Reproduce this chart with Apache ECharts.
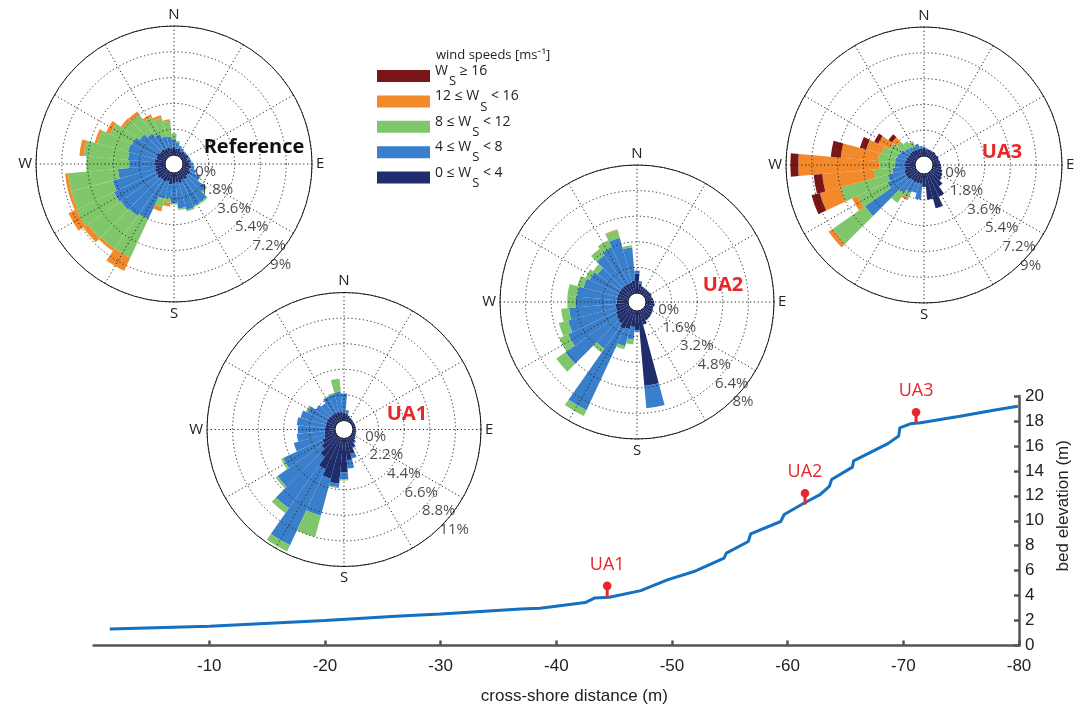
<!DOCTYPE html>
<html>
<head>
<meta charset="utf-8">
<title>Wind roses and cross-shore bed profile</title>
<script src="https://cdn.jsdelivr.net/npm/echarts@6/dist/echarts.min.js"></script>
<style>
  html, body { margin: 0; padding: 0; background: #ffffff; }
  #chart { width: 1084px; height: 708px; }
</style>
</head>
<body>
<div id="chart"></div>
<script>
// ---------- wind rose data: frequency (%) per 10° direction bin, one array per speed class ----------
const directions = [0, 10, 20, 30, 40, 50, 60, 70, 80, 90, 100, 110, 120, 130, 140, 150, 160, 170,
                    180, 190, 200, 210, 220, 230, 240, 250, 260, 270, 280, 290, 300, 310, 320, 330, 340, 350];

const speedClasses = ['0 ≤ W_S < 4', '4 ≤ W_S < 8', '8 ≤ W_S < 12', '12 ≤ W_S < 16', 'W_S ≥ 16'];
const speedColors  = ['#1f2d6c', '#3a7fcc', '#80c76c', '#f28a2c', '#7a1518'];

// Reference station
const ref0to4   = [0.55,0.45,0.5,0.35,0.45,0.4,0.5,0.35,0.5,0.45,0.6,0.5,0.65,0.55,0.7,0.6,0.75,0.65,0.7,0.8,0.65,0.75,0.7,0.8,0.7,0.75,0.65,0.7,0.75,0.65,0.7,0.6,0.65,0.55,0.6,0.5];
const ref4to8   = [0.55,0.45,0.2,0.25,0.05,0.1,0,0.2,0.1,0.25,0.2,0.5,0.75,1.55,1.9,2.0,1.95,1.85,1.4,1.0,1.25,2.85,3.1,3.1,3.3,3.05,2.65,1.8,1.85,2.05,1.9,1.7,1.35,1.15,0.8,0.8];
const ref8to12  = [0.4,0.1,0,0,0,0,0,0,0,0,0,0,0.05,0.1,0.1,0.1,0.1,0.1,0.1,0.3,0.6,3.0,2.8,2.8,2.9,3.0,3.5,3.0,3.1,2.2,1.7,1.4,1.6,1.3,1.3,1.1];
const ref12to16 = [0,0,0,0,0,0,0,0,0,0,0,0,0,0,0,0,0,0,0,0.25,0.3,1.0,0.2,0.4,0.6,0.2,0.2,0,0.3,0.2,0.3,0.2,0.25,0.2,0.2,0.1];
const ref16up   = [0,0,0,0,0,0,0,0,0,0,0,0,0,0,0,0,0,0,0,0,0,0,0,0,0,0,0,0,0,0,0,0,0,0,0,0];
const refTicks      = [0, 1.8, 3.6, 5.4, 7.2, 9];
const refTickLabels = ['0%', '1.8%', '3.6%', '5.4%', '7.2%', '9%'];

// UA1
const ua1_0to4   = [0.7,0.6,0.45,0.35,0.3,0.25,0.25,0.25,0.25,0.25,0.3,0.3,0.35,0.45,0.6,0.9,1.4,1.9,2.9,3.9,3.6,3.0,2.1,1.6,1.3,1.0,0.9,0.85,0.85,0.85,0.85,0.85,0.8,0.8,0.8,0.75];
const ua1_4to8   = [1.6,0.3,0.05,0,0,0,0,0,0,0,0,0,0,0,0.1,0.1,0.4,0.7,0.6,0.3,3.3,7.2,5.4,4.6,3.7,2.7,2.4,2.35,2.45,2.25,1.85,1.35,1.2,1.55,1.6,1.75];
const ua1_8to12  = [0.05,0,0,0,0,0,0,0,0,0,0,0,0,0,0,0,0,0,0.1,0.1,1.9,0.6,0.5,0.2,0.2,0,0,0,0,0,0.15,0,0,0.05,0.1,1.1];
const ua1_12to16 = [0,0,0,0,0,0,0,0,0,0,0,0,0,0,0,0,0,0,0,0,0,0,0,0,0,0,0,0,0,0,0,0,0,0,0,0];
const ua1_16up   = [0,0,0,0,0,0,0,0,0,0,0,0,0,0,0,0,0,0,0,0,0,0,0,0,0,0,0,0,0,0,0,0,0,0,0,0];
const ua1Ticks      = [0, 2.2, 4.4, 6.6, 8.8, 11];
const ua1TickLabels = ['0%', '2.2%', '4.4%', '6.6%', '8.8%', '11%'];

// UA2
const ua2_0to4   = [1.2,0.6,0.45,0.4,0.4,0.4,0.45,0.4,0.45,0.5,0.55,0.5,0.55,0.6,0.65,0.7,0.9,4.7,1.2,1.0,1.2,1.3,1.1,1.0,0.9,0.8,0.8,0.7,0.7,0.7,0.7,0.7,0.7,0.7,0.7,0.8];
const ua2_4to8   = [0.2,0.15,0,0,0,0,0,0,0,0,0,0,0,0,0,0,0,1.4,0.1,0.8,1.1,5.6,1.9,3.9,3.3,3.1,2.9,2.6,2.5,2.2,2.0,1.75,2.3,2.5,2.9,2.05];
const ua2_8to12  = [0,0,0,0,0,0,0,0,0,0,0,0,0,0,0,0,0,0,0,0.3,0.2,0.4,0.3,0.7,0.6,0.6,0.5,0.5,0.6,0.4,0.3,0.35,0.5,0.5,0.5,0.15];
const ua2_12to16 = [0,0,0,0,0,0,0,0,0,0,0,0,0,0,0,0,0,0,0,0,0,0,0,0,0,0,0,0,0,0,0,0,0,0,0.05,0];
const ua2_16up   = [0,0,0,0,0,0,0,0,0,0,0,0,0,0,0,0,0,0,0,0,0,0,0,0,0,0,0,0,0,0,0,0,0,0,0,0];
const ua2Ticks      = [0, 1.6, 3.2, 4.8, 6.4, 8];
const ua2TickLabels = ['0%', '1.6%', '3.2%', '4.8%', '6.4%', '8%'];

// UA3
const ua3_0to4   = [0.55,0.5,0.5,0.45,0.5,0.45,0.5,0.45,0.5,0.55,0.6,0.7,0.8,0.9,1.2,1.8,2.5,1.8,0.9,0.7,0.7,0.7,0.7,0.8,0.8,0.8,0.7,0.7,0.7,0.65,0.6,0.6,0.6,0.55,0.55,0.55];
const ua3_4to8   = [0.1,0.05,0,0,0,0,0,0,0,0,0,0,0,0,0,0,0,0,0,1.1,0.7,0.8,1.1,3.6,1.4,1.2,0.9,0.7,0.7,0.65,0.6,0.4,0.3,0.25,0.35,0.15];
const ua3_8to12  = [0,0,0,0,0,0,0,0,0,0,0,0,0,0,0,0,0,0,0,0,0,0.4,0.8,2.75,2.3,3.4,1.3,1.1,1.2,1.1,0.8,0.7,0.5,0.4,0,0];
const ua3_12to16 = [0,0,0,0,0,0,0,0,0,0,0,0,0,0,0,0,0,0,0,0,0,0.2,0,0.35,0.4,1.5,3.6,5.65,2.6,1.15,0.9,0.4,0,0,0,0];
const ua3_16up   = [0,0,0,0,0,0,0,0,0,0,0,0,0,0,0,0,0,0,0,0,0,0,0,0,0,0.6,0.6,0.55,0.7,0.45,0.3,0.3,0,0,0,0];
const ua3Ticks      = [0, 1.8, 3.6, 5.4, 7.2, 9];
const ua3TickLabels = ['0%', '1.8%', '3.6%', '5.4%', '7.2%', '9%'];

const compassAngles = [0, 90, 180, 270];
const compassNames  = ['N', 'E', 'S', 'W'];

// ---------- cross-shore bed profile ----------
const profileX = [-1.4, -10, -20, -26.5, -30, -36.9, -38.6, -42.5, -43.3, -44.6, -47.3, -49.6, -51.9, -54.5, -54.7,
                  -56.6, -56.8, -59.4, -59.7, -61.4, -62.8, -63.6, -63.8, -65.6, -65.7, -68.7, -69.6, -69.7, -70.6,
                  -71.5, -74.9, -77.8, -79.9];
const profileY = [1.33, 1.54, 2.0, 2.37, 2.53, 2.93, 2.99, 3.44, 3.8, 3.87, 4.4, 5.26, 5.93, 7.0, 7.4,
                  8.34, 8.95, 9.94, 10.5, 11.4, 12.09, 12.75, 13.3, 14.3, 14.8, 16.2, 16.8, 17.45, 17.77,
                  17.85, 18.38, 18.86, 19.18];

const stationNames  = ['UA1', 'UA2', 'UA3'];
const stationX      = [-44.4, -61.5, -71.1];
const stationGround = [3.87, 11.3, 17.85];
const stationTop    = [4.78, 12.2, 18.7];

const xTicks = [-10, -20, -30, -40, -50, -60, -70, -80];

// ---------- layout ----------
const SANS  = "'Open Sans', 'Liberation Sans', sans-serif";
const ARIAL = "'Liberation Sans', Arial, sans-serif";
const RED   = '#e8262b';
const tickLabelAngle = 137;

const roses = [
  { title: 'Reference', classes: [ref0to4, ref4to8, ref8to12, ref12to16, ref16up], ticks: refTicks, tickLabels: refTickLabels },
  { title: 'UA1', classes: [ua1_0to4, ua1_4to8, ua1_8to12, ua1_12to16, ua1_16up], ticks: ua1Ticks, tickLabels: ua1TickLabels },
  { title: 'UA2', classes: [ua2_0to4, ua2_4to8, ua2_8to12, ua2_12to16, ua2_16up], ticks: ua2Ticks, tickLabels: ua2TickLabels },
  { title: 'UA3', classes: [ua3_0to4, ua3_4to8, ua3_8to12, ua3_12to16, ua3_16up], ticks: ua3Ticks, tickLabels: ua3TickLabels }
];
const roseLayout = [
  { center: [174, 164],   radius: [9, 138], titleColor: '#111111', titlePos: [254, 147] },
  { center: [344, 429.5], radius: [9, 137], titleColor: RED,       titlePos: [407, 414] },
  { center: [637, 302],   radius: [9, 137], titleColor: RED,       titlePos: [723, 285] },
  { center: [924, 165],   radius: [9, 138], titleColor: RED,       titlePos: [1002, 152] }
];

const gridLine = { color: '#222222', width: 1, type: [1.2, 2.6] };

const polar = [], angleAxis = [], radiusAxis = [], series = [], graphic = [];

// polar systems carrying the stacked bars
roses.forEach((rose, i) => {
  const lay = roseLayout[i];
  polar.push({ center: lay.center, radius: lay.radius });
  angleAxis.push({
    polarIndex: i, type: 'category', data: directions, startAngle: 95, clockwise: true,
    show: false, axisLine: { show: false }, axisTick: { show: false }, axisLabel: { show: false }, splitLine: { show: false }
  });
  radiusAxis.push({
    polarIndex: i, type: 'value', min: 0, max: rose.ticks[rose.ticks.length - 1],
    show: false, axisLine: { show: false }, axisTick: { show: false }, axisLabel: { show: false }, splitLine: { show: false }
  });
  rose.classes.forEach((vals, c) => {
    series.push({
      type: 'bar', name: speedClasses[c], coordinateSystem: 'polar', polarIndex: i,
      stack: 'rose' + i, data: vals, barCategoryGap: '0%', silent: true, z: 2,
      itemStyle: { color: speedColors[c], borderWidth: 0 }
    });
  });
});

// polar systems carrying the dotted grid, compass letters and percentage labels
roses.forEach((rose, i) => {
  const lay = roseLayout[i];
  const g = roses.length + i;
  polar.push({ center: lay.center, radius: lay.radius });
  angleAxis.push({
    polarIndex: g, type: 'value', min: 0, max: 360, interval: 30, startAngle: 90, clockwise: true, z: 3,
    axisLine: { show: true, lineStyle: { color: '#1a1a1a', width: 1 } },
    axisTick: { show: false },
    axisLabel: {
      margin: 4, fontSize: 15, color: '#222', fontFamily: SANS,
      formatter: v => { const k = compassAngles.indexOf(v); return k < 0 ? '' : compassNames[k]; }
    },
    splitLine: { show: true, lineStyle: gridLine }
  });
  radiusAxis.push({
    polarIndex: g, type: 'value', min: 0, max: rose.ticks[rose.ticks.length - 1], interval: rose.ticks[1], z: 3,
    axisLine: { show: false }, axisTick: { show: false }, axisLabel: { show: false },
    splitLine: { show: true, lineStyle: gridLine }
  });
  series.push({
    type: 'scatter', coordinateSystem: 'polar', polarIndex: g, symbolSize: 0.01, silent: true, z: 4,
    itemStyle: { color: 'rgba(0,0,0,0)' },
    data: rose.ticks.map((v, k) => k === 0
      ? { value: [v, tickLabelAngle], label: { offset: [13, 1] } }
      : { value: [v, tickLabelAngle] }),
    label: {
      show: true, position: 'right', distance: 2, fontSize: 15, color: '#1e1e1e', fontFamily: SANS,
      formatter: p => rose.tickLabels[p.dataIndex]
    }
  });
  graphic.push({
    type: 'text', x: lay.titlePos[0], y: lay.titlePos[1], z: 10,
    style: {
      text: rose.title, fill: lay.titleColor, font: 'bold 20px ' + SANS,
      align: 'center', verticalAlign: 'middle', textAlign: 'center', textVerticalAlign: 'middle'
    }
  });
});

graphic.push({
  type: 'text', x: 436, y: 55, z: 10,
  style: {
    text: 'wind speeds [ms⁻¹]', fill: '#222', font: '13px ' + SANS,
    align: 'left', verticalAlign: 'middle', textAlign: 'left', textVerticalAlign: 'middle'
  }
});

// bed profile line
series.push({
  type: 'line', xAxisIndex: 0, yAxisIndex: 0, showSymbol: false, silent: true, z: 3,
  data: profileX.map((x, k) => [x, profileY[k]]),
  lineStyle: { color: '#1570bf', width: 3 }
});

// instrument pins on the profile
series.push({
  type: 'custom', xAxisIndex: 0, yAxisIndex: 0, silent: true, z: 5,
  data: stationX.map((x, k) => [x, stationGround[k], stationTop[k]]),
  encode: { x: 0, y: [1, 2] },
  renderItem: (params, api) => {
    const base = api.coord([api.value(0), api.value(1)]);
    const top  = api.coord([api.value(0), api.value(2)]);
    return {
      type: 'group',
      children: [
        { type: 'line', shape: { x1: base[0], y1: base[1], x2: top[0], y2: top[1] }, style: { stroke: RED, lineWidth: 3 } },
        { type: 'circle', shape: { cx: top[0], cy: top[1], r: 4.3 }, style: { fill: RED } },
        { type: 'text', x: top[0], y: top[1] - 21,
          style: { text: stationNames[params.dataIndex], fill: RED, font: '18px ' + SANS,
                   align: 'center', verticalAlign: 'middle' } }
      ]
    };
  }
});

const legendOrder = ['W_S ≥ 16', '12 ≤ W_S < 16', '8 ≤ W_S < 12', '4 ≤ W_S < 8', '0 ≤ W_S < 4'];

const axisGray = '#555555';

const option = {
  animation: false,
  backgroundColor: '#ffffff',
  polar, angleAxis, radiusAxis,
  grid: { left: 93.6, right: 65, top: 396, bottom: 62.5, show: false },
  xAxis: {
    type: 'value', min: -80, max: 0, inverse: true, interval: 10,
    name: 'cross-shore distance (m)', nameLocation: 'middle', nameGap: 42,
    nameTextStyle: { fontSize: 17, color: '#222', fontFamily: ARIAL, padding: [0, 0, 0, 36] },
    axisLine: { onZero: false, lineStyle: { color: axisGray, width: 2.5 } },
    axisTick: { inside: true, length: 5, lineStyle: { color: axisGray, width: 2.5 }, customValues: xTicks },
    axisLabel: { customValues: xTicks, fontSize: 17, color: '#222', fontFamily: ARIAL, margin: 12 },
    splitLine: { show: false }
  },
  yAxis: {
    type: 'value', position: 'right', min: 0, max: 20, interval: 2,
    name: 'bed elevation (m)', nameLocation: 'middle', nameRotate: 90, nameGap: 36,
    nameTextStyle: { fontSize: 17, color: '#222', fontFamily: ARIAL, padding: [0, 0, 0, 30] },
    axisLine: { show: true, onZero: false, lineStyle: { color: axisGray, width: 2.5 } },
    axisTick: { show: true, inside: true, length: 5, lineStyle: { color: axisGray, width: 2.5 } },
    axisLabel: { fontSize: 17, color: '#222', fontFamily: ARIAL, margin: 6 },
    splitLine: { show: false }
  },
  legend: {
    data: legendOrder, orient: 'vertical', left: 377, top: 64, padding: 0,
    itemWidth: 53, itemHeight: 12, itemGap: 1.4, icon: 'rect', selectedMode: false,
    formatter: name => {
      const parts = name.split('W_S');
      return '{t|' + parts[0] + 'W}{s|S}' + (parts[1] ? '{t|' + parts[1] + '}' : '');
    },
    textStyle: {
      color: '#222', fontFamily: SANS, fontSize: 14,
      rich: {
        t: { fontSize: 14, fontFamily: SANS, color: '#222', verticalAlign: 'top' },
        s: { fontSize: 13, fontFamily: SANS, color: '#222', verticalAlign: 'top', padding: [11, 0, 0, 1] }
      }
    }
  },
  graphic,
  series
};

const chart = echarts.init(document.getElementById('chart'), null, { renderer: 'canvas' });
chart.setOption(option);
</script>
</body>
</html>
